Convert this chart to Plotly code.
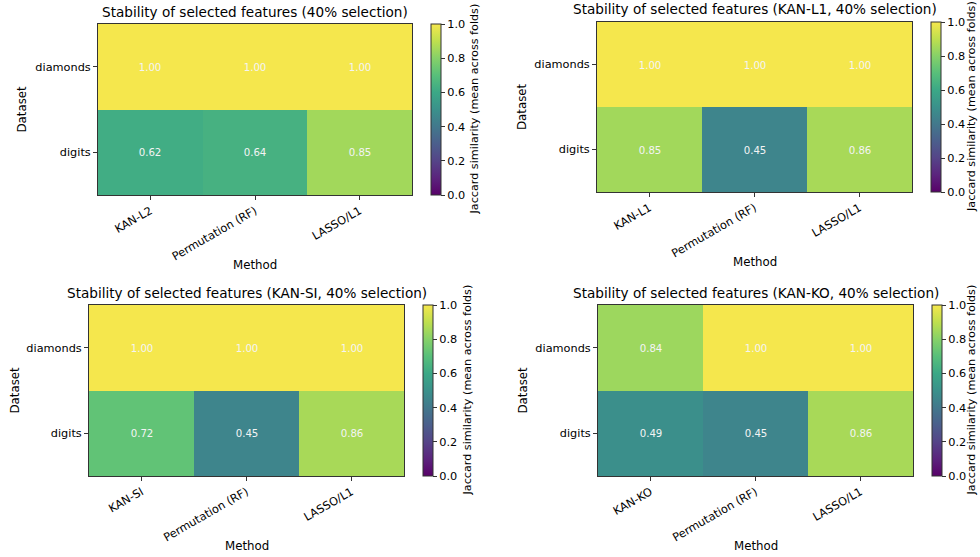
import plotly.graph_objects as go

datasets = ["diamonds", "digits"]
methods_1 = ["KAN-L2", "Permutation (RF)", "LASSO/L1"]
methods_2 = ["KAN-L1", "Permutation (RF)", "LASSO/L1"]
methods_3 = ["KAN-SI", "Permutation (RF)", "LASSO/L1"]
methods_4 = ["KAN-KO", "Permutation (RF)", "LASSO/L1"]

z_1 = [[1.00, 1.00, 1.00], [0.62, 0.64, 0.85]]
z_2 = [[1.00, 1.00, 1.00], [0.85, 0.45, 0.86]]
z_3 = [[1.00, 1.00, 1.00], [0.72, 0.45, 0.86]]
z_4 = [[0.84, 1.00, 1.00], [0.49, 0.45, 0.86]]

titles = [
    "Stability of selected features (40% selection)",
    "Stability of selected features (KAN-L1, 40% selection)",
    "Stability of selected features (KAN-SI, 40% selection)",
    "Stability of selected features (KAN-KO, 40% selection)",
]
cbar_title = "Jaccard similarity (mean across folds)"
cbar_ticks = [0.0, 0.2, 0.4, 0.6, 0.8, 1.0]

# matplotlib viridis stops, slightly washed to match the reference rendering
viridis_hex = ["#440154", "#482475", "#414487", "#355f8d", "#2a788e", "#21918c",
               "#22a884", "#44bf70", "#7ad151", "#bddf26", "#fde725"]


def wash(h):
    r, g, b = int(h[1:3], 16), int(h[3:5], 16), int(h[5:7], 16)
    r2 = min(255, round(0.85 * r + 30))
    g2 = g
    b2 = min(255, round(0.6 * b + 55))
    return f"rgb({r2},{g2},{b2})"


colorscale = [[i / 10, wash(h)] for i, h in enumerate(viridis_hex)]

W, H = 980, 557
panels = [
    dict(box=(98, 412, 24, 195), cb=431, ty=12, cbt=474, dx=22, my=265),
    dict(box=(597, 912, 22, 192), cb=931, ty=9, cbt=971, dx=522, my=262),
    dict(box=(89, 404, 305, 476), cb=423, ty=293, cbt=467, dx=14, my=546),
    dict(box=(598, 913, 305, 476), cb=932, ty=293, cbt=971, dx=522, my=546),
]
methods_all = [methods_1, methods_2, methods_3, methods_4]
z_all = [z_1, z_2, z_3, z_4]

FONT = "DejaVu Sans"
TICK = 11.3
LABEL = 11.8
fig = go.Figure()
layout = dict(
    width=W, height=H, margin=dict(l=0, r=0, t=0, b=0),
    paper_bgcolor="white", plot_bgcolor="white",
    font=dict(family=FONT, color="black", size=TICK),
    showlegend=False,
)
annotations = []

for i, (p, meth, z, title) in enumerate(zip(panels, methods_all, z_all, titles)):
    n = i + 1
    sfx = "" if n == 1 else str(n)
    l, r, t, b = p["box"]
    xd = [l / W, r / W]
    yd = [1 - b / H, 1 - t / H]
    ca = "coloraxis" + sfx
    fig.add_trace(go.Heatmap(
        x=meth, y=datasets, z=z, coloraxis=ca,
        xaxis="x" + sfx, yaxis="y" + sfx,
        texttemplate="%{z:.2f}", textfont=dict(color="#f4f4f4", size=10.2, family=FONT),
        hoverinfo="skip",
    ))
    axcommon = dict(showline=True, mirror=True, linecolor="#333333", linewidth=1,
                    ticks="outside", ticklen=4, tickcolor="#333333",
                    showgrid=False, zeroline=False,
                    tickfont=dict(size=TICK, family=FONT, color="black"))
    layout["xaxis" + sfx] = dict(domain=xd, anchor="y" + sfx, tickangle=-30, **axcommon)
    layout["yaxis" + sfx] = dict(domain=yd, anchor="x" + sfx, autorange="reversed", **axcommon)
    layout[ca] = dict(
        colorscale=colorscale, cmin=0, cmax=1,
        colorbar=dict(
            x=p["cb"] / W, xanchor="left", y=(yd[0] + yd[1]) / 2, yanchor="middle",
            len=yd[1] - yd[0], lenmode="fraction", thickness=10, thicknessmode="pixels",
            outlinewidth=1, outlinecolor="#333333", ticks="outside", ticklen=4,
            tickcolor="#333333", tickvals=cbar_ticks, tickformat=".1f",
            tickfont=dict(size=TICK, family=FONT, color="black"), xpad=0, ypad=0,
        ),
    )
    cx = (l + r) / 2 / W
    cy = (yd[0] + yd[1]) / 2
    annotations.append(dict(text=title, x=cx, y=1 - p["ty"] / H, xref="paper", yref="paper",
                            xanchor="center", yanchor="middle", showarrow=False,
                            font=dict(size=13.6, family=FONT, color="black")))
    annotations.append(dict(text=cbar_title, x=p["cbt"] / W, y=cy, xref="paper", yref="paper",
                            xanchor="center", yanchor="middle", showarrow=False, textangle=-90,
                            font=dict(size=11.2, family=FONT, color="black")))
    annotations.append(dict(text="Dataset", x=p["dx"] / W, y=cy, xref="paper", yref="paper",
                            xanchor="center", yanchor="middle", showarrow=False, textangle=-90,
                            font=dict(size=LABEL, family=FONT, color="black")))
    annotations.append(dict(text="Method", x=cx, y=1 - p["my"] / H, xref="paper", yref="paper",
                            xanchor="center", yanchor="middle", showarrow=False,
                            font=dict(size=LABEL, family=FONT, color="black")))

layout["annotations"] = annotations
fig.update_layout(**layout)
fig.write_html("out.html")
